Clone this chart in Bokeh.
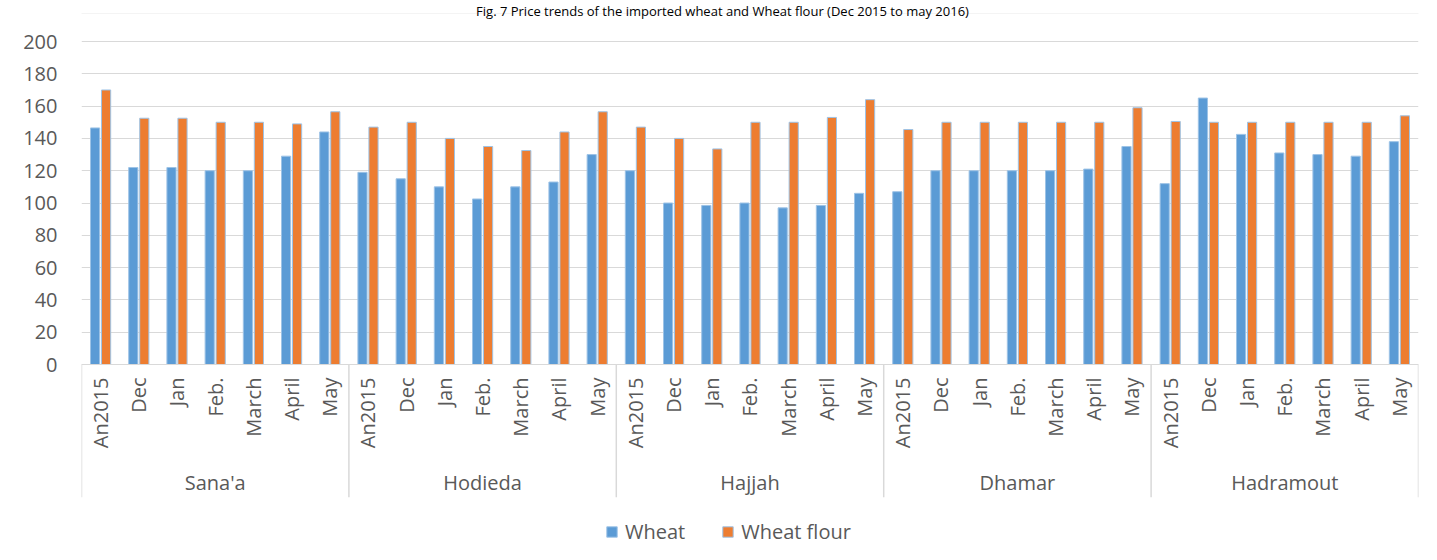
import math
from bokeh.plotting import figure
from bokeh.models import FactorRange, Range1d, FixedTicker, ColumnDataSource, Legend, LegendItem, BoxAnnotation
from bokeh.transform import dodge
from bokeh.core.properties import value
from bokeh.embed import file_html
from bokeh.resources import INLINE

title_text = "Fig. 7 Price trends of the imported wheat and Wheat flour (Dec 2015 to may 2016)"
groups = ["Sana'a", "Hodieda", "Hajjah", "Dhamar", "Hadramout"]
months = ["An2015", "Dec", "Jan", "Feb.", "March", "April", "May"]

wheat_sanaa = [146.5, 122, 122, 120, 120, 129, 144]
flour_sanaa = [170, 152.5, 152.5, 150, 150, 149, 156.5]
wheat_hodieda = [119, 115, 110, 102.5, 110, 113, 130]
flour_hodieda = [147, 150, 140, 135, 132.5, 144, 156.5]
wheat_hajjah = [120, 100, 98.5, 100, 97, 98.5, 106]
flour_hajjah = [147, 140, 133.5, 150, 150, 153, 164]
wheat_dhamar = [107, 120, 120, 120, 120, 121, 135]
flour_dhamar = [145.5, 150, 150, 150, 150, 150, 159]
wheat_hadramout = [112, 165, 142.5, 131, 130, 129, 138]
flour_hadramout = [150.5, 150, 150, 150, 150, 150, 154]

y_ticks = [0, 20, 40, 60, 80, 100, 120, 140, 160, 180, 200]

wheat = wheat_sanaa + wheat_hodieda + wheat_hajjah + wheat_dhamar + wheat_hadramout
flour = flour_sanaa + flour_hodieda + flour_hajjah + flour_dhamar + flour_hadramout
factors = [(g, m) for g in groups for m in months]

FONT = "Open Sans"
TXT = "#595959"
GRID = "#d9d9d9"
BLUE = "#5b9bd5"
ORANGE = "#ed7d31"
FS = "20px"

p = figure(
    width=1429, height=552,
    x_range=FactorRange(*factors, factor_padding=0, group_padding=0, subgroup_padding=0, range_padding=0),
    y_range=Range1d(-116.4, 225.4),
    output_backend="svg", toolbar_location=None,
    min_border_left=81, min_border_right=11, min_border_top=0, min_border_bottom=0,
)
p.outline_line_color = None
p.background_fill_color = "white"
p.border_fill_color = "white"

# outer chart border
p.add_layout(BoxAnnotation(left=7, right=1600, top=13, bottom=800,
                           left_units="canvas", right_units="canvas",
                           top_units="canvas", bottom_units="canvas",
                           fill_color=None, fill_alpha=0, line_color=GRID, line_width=1,
                           level="underlay"))

src = ColumnDataSource(dict(x=factors, wheat=wheat, flour=flour))
r1 = p.vbar(x=dodge("x", -0.144, range=p.x_range), top="wheat", width=0.24, source=src,
            fill_color=BLUE, line_color="#9dc3e6", line_width=1)
r2 = p.vbar(x=dodge("x", 0.144, range=p.x_range), top="flour", width=0.24, source=src,
            fill_color=ORANGE, line_color="#9dc3e6", line_width=1)

# y axis
yax = p.yaxis[0]
yax.ticker = FixedTicker(ticks=y_ticks)
yax.axis_line_color = None
yax.major_tick_line_color = None
yax.minor_tick_line_color = None
yax.major_label_standoff = 18
yax.major_label_text_font = FONT
yax.major_label_text_font_size = FS
yax.major_label_text_color = TXT
p.ygrid.grid_line_color = GRID
p.ygrid.grid_line_width = 1
p.xgrid.grid_line_color = None

# x axis at y=0
xax = p.xaxis[0]
xax.fixed_location = 0
xax.axis_line_color = GRID
xax.axis_line_width = 1
xax.major_tick_line_color = None
xax.minor_tick_line_color = None
xax.major_label_standoff = 7
xax.subgroup_label_orientation = math.pi / 2
xax.major_label_orientation = math.pi / 2
xax.major_label_text_font = FONT
xax.major_label_text_font_size = FS
xax.major_label_text_color = TXT
xax.subgroup_text_font = FONT
xax.subgroup_text_font_size = FS
xax.subgroup_text_color = TXT
xax.group_text_alpha = 0
xax.separator_line_color = None

# group labels
gsrc = ColumnDataSource(dict(x=groups, y=[-72.9] * len(groups), t=groups))
p.text(x="x", y="y", text="t", source=gsrc, text_align="center", text_baseline="middle",
       text_font=value(FONT), text_font_size=FS, text_color=TXT)

# separators between and around groups
sep_x = [(g, months[0], -0.5) for g in groups] + [(groups[-1], months[-1], 0.5)]
ssrc = ColumnDataSource(dict(x0=sep_x, x1=sep_x, y0=[0] * len(sep_x), y1=[-82.2] * len(sep_x)))
p.segment(x0="x0", y0="y0", x1="x1", y1="y1", source=ssrc, line_color=GRID, line_width=1.5)

# title (cut at the top of the reference page)
tsrc = ColumnDataSource(dict(x=[("Hajjah", "Jan", 0.28)], y=[219.2], t=[title_text]))
p.text(x="x", y="y", text="t", source=tsrc, text_align="center", text_baseline="alphabetic",
       text_font=value(FONT), text_font_size="13px", text_color="black")

legend = Legend(items=[LegendItem(label="Wheat", renderers=[r1]),
                       LegendItem(label="Wheat flour", renderers=[r2])],
                orientation="horizontal", location=(524, 7))
legend.glyph_width = 13
legend.glyph_height = 13
legend.label_standoff = 7
legend.spacing = 36
legend.padding = 0
legend.margin = 0
legend.border_line_color = None
legend.background_fill_alpha = 0
legend.label_text_font = FONT
legend.label_text_font_size = FS
legend.label_text_color = TXT
p.add_layout(legend, "center")

open("out.html", "w").write(file_html(p, INLINE))
